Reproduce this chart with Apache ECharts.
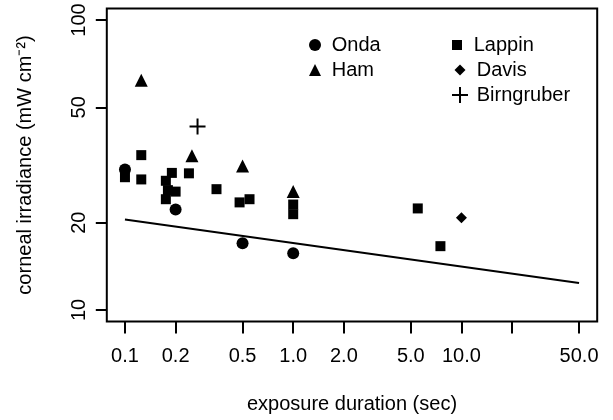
<!DOCTYPE html>
<html>
<head>
<meta charset="utf-8">
<title>Corneal irradiance vs exposure duration</title>
<script src="https://cdn.jsdelivr.net/npm/echarts@6/dist/echarts.min.js"></script>
<style>
  html, body { margin: 0; padding: 0; background: #fff; }
  #chart { width: 613px; height: 420px; }
</style>
</head>
<body>
<div id="chart"></div>
<script>
// Exposure duration (sec) and corneal irradiance (mW cm^-2) per study
const ondaX = [0.1, 0.2, 0.5, 1.0];
const ondaY = [30.5, 22.2, 17.0, 15.7];

const hamX = [0.125, 0.25, 0.5, 1.0];
const hamY = [62.0, 34.0, 31.4, 25.6];

const lappinX = [0.1, 0.125, 0.125, 0.19, 0.175, 0.18, 0.2, 0.175, 0.24, 0.35, 0.48, 0.55, 1.0, 1.0, 5.5, 7.5];
const lappinY = [28.7, 34.2, 28.2, 29.7, 27.9, 25.9, 25.6, 24.1, 29.6, 26.1, 23.5, 24.1, 23.1, 21.4, 22.4, 16.6];

const davisX = [10.0];
const davisY = [20.8];

const birngruberX = [0.27];
const birngruberY = [42.9];

// Fitted power-law limit line (straight on log-log axes)
const fitX = [0.1, 50];
const fitY = [20.5, 12.4];

// Axis ticks and labels
const xTickValues = [0.1, 0.2, 0.5, 1, 2, 5, 10, 20, 50];
const xLabelValues = [0.1, 0.2, 0.5, 1, 2, 5, 10, 50];
const yTickValues = [10, 20, 50, 100];

const zip = (xs, ys) => xs.map((x, i) => [x, ys[i]]);

const FONT = 'Liberation Sans, Arial, Helvetica, sans-serif';
const FS = 20;
const plusPath = 'path://M7,0 H9 V7 H16 V9 H9 V16 H7 V9 H0 V7 H7 Z';

// log-axis limits padded by 4% of the log range on each side
function padLog(lo, hi) {
  const a = Math.log10(lo), b = Math.log10(hi), d = (b - a) * 0.04;
  return [Math.pow(10, a - d), Math.pow(10, b + d)];
}
const xLim = padLog(0.1, 50);
const yLim = padLog(10, 100);

// one legend block per study so each symbol keeps its own size and place
function legendItem(name, icon, size, cx, cy) {
  const h = 22;
  return {
    data: [{ name: name, icon: icon }],
    left: cx - size / 2,
    top: cy - h / 2,
    padding: 0,
    itemWidth: size,
    itemHeight: size,
    itemStyle: { color: '#000', borderWidth: 0, opacity: 1 },
    textStyle: {
      fontFamily: FONT, fontSize: FS, color: '#000',
      padding: [0, 0, 0, Math.max(0, 11.7 - size / 2)], lineHeight: h
    },
    selectedMode: false
  };
}

const chart = echarts.init(document.getElementById('chart'), null, { renderer: 'canvas' });

chart.setOption({
  animation: false,
  backgroundColor: '#fff',
  textStyle: { fontFamily: FONT },
  grid: {
    left: 106.8, right: 15.8, top: 8.4, bottom: 98.4,
    show: true, borderColor: '#000', borderWidth: 2, backgroundColor: 'transparent'
  },
  legend: [
    legendItem('Onda', 'circle', 12, 315, 45),
    legendItem('Ham', 'triangle', 12, 315, 70),
    legendItem('Lappin', 'rect', 10, 457, 45),
    legendItem('Davis', 'diamond', 11, 460, 70),
    legendItem('Birngruber', plusPath, 16, 460, 95)
  ],
  xAxis: {
    type: 'log',
    min: xLim[0],
    max: xLim[1],
    name: 'exposure duration (sec)',
    nameLocation: 'middle',
    nameGap: 73,
    nameTextStyle: { fontFamily: FONT, fontSize: FS, color: '#000' },
    axisLine: { show: false },
    splitLine: { show: false },
    minorTick: { show: false },
    axisTick: { show: true, length: 12, lineStyle: { color: '#000', width: 2 }, customValues: xTickValues },
    axisLabel: {
      customValues: xLabelValues,
      margin: 25,
      fontFamily: FONT, fontSize: FS, color: '#000',
      formatter: v => Number(v).toFixed(1)
    }
  },
  yAxis: {
    type: 'log',
    min: yLim[0],
    max: yLim[1],
    name: 'corneal irradiance (mW cm\u207B\u00B2)',
    nameLocation: 'middle',
    nameGap: 71,
    nameTextStyle: { fontFamily: FONT, fontSize: FS, color: '#000' },
    axisLine: { show: false },
    splitLine: { show: false },
    minorTick: { show: false },
    axisTick: { show: true, length: 11, lineStyle: { color: '#000', width: 2 }, customValues: yTickValues },
    axisLabel: {
      customValues: yTickValues,
      rotate: 90,
      margin: 17,
      fontFamily: FONT, fontSize: FS, color: '#000',
      formatter: v => String(Math.round(v))
    }
  },
  series: [
    {
      name: 'fit', type: 'line', data: zip(fitX, fitY),
      showSymbol: false, symbol: 'none', silent: true,
      lineStyle: { color: '#000', width: 2 }, z: 1
    },
    {
      name: 'Onda', type: 'scatter', data: zip(ondaX, ondaY),
      symbol: 'circle', symbolSize: 12, itemStyle: { color: '#000', opacity: 1 }, z: 3
    },
    {
      name: 'Ham', type: 'scatter', data: zip(hamX, hamY),
      symbol: 'triangle', symbolSize: 13, itemStyle: { color: '#000', opacity: 1 }, z: 3
    },
    {
      name: 'Lappin', type: 'scatter', data: zip(lappinX, lappinY),
      symbol: 'rect', symbolSize: 10, itemStyle: { color: '#000', opacity: 1 }, z: 3
    },
    {
      name: 'Davis', type: 'scatter', data: zip(davisX, davisY),
      symbol: 'diamond', symbolSize: 11, itemStyle: { color: '#000', opacity: 1 }, z: 3
    },
    {
      name: 'Birngruber', type: 'scatter', data: zip(birngruberX, birngruberY),
      symbol: plusPath, symbolSize: 16, itemStyle: { color: '#000', opacity: 1 }, z: 3
    }
  ]
});
</script>
</body>
</html>
